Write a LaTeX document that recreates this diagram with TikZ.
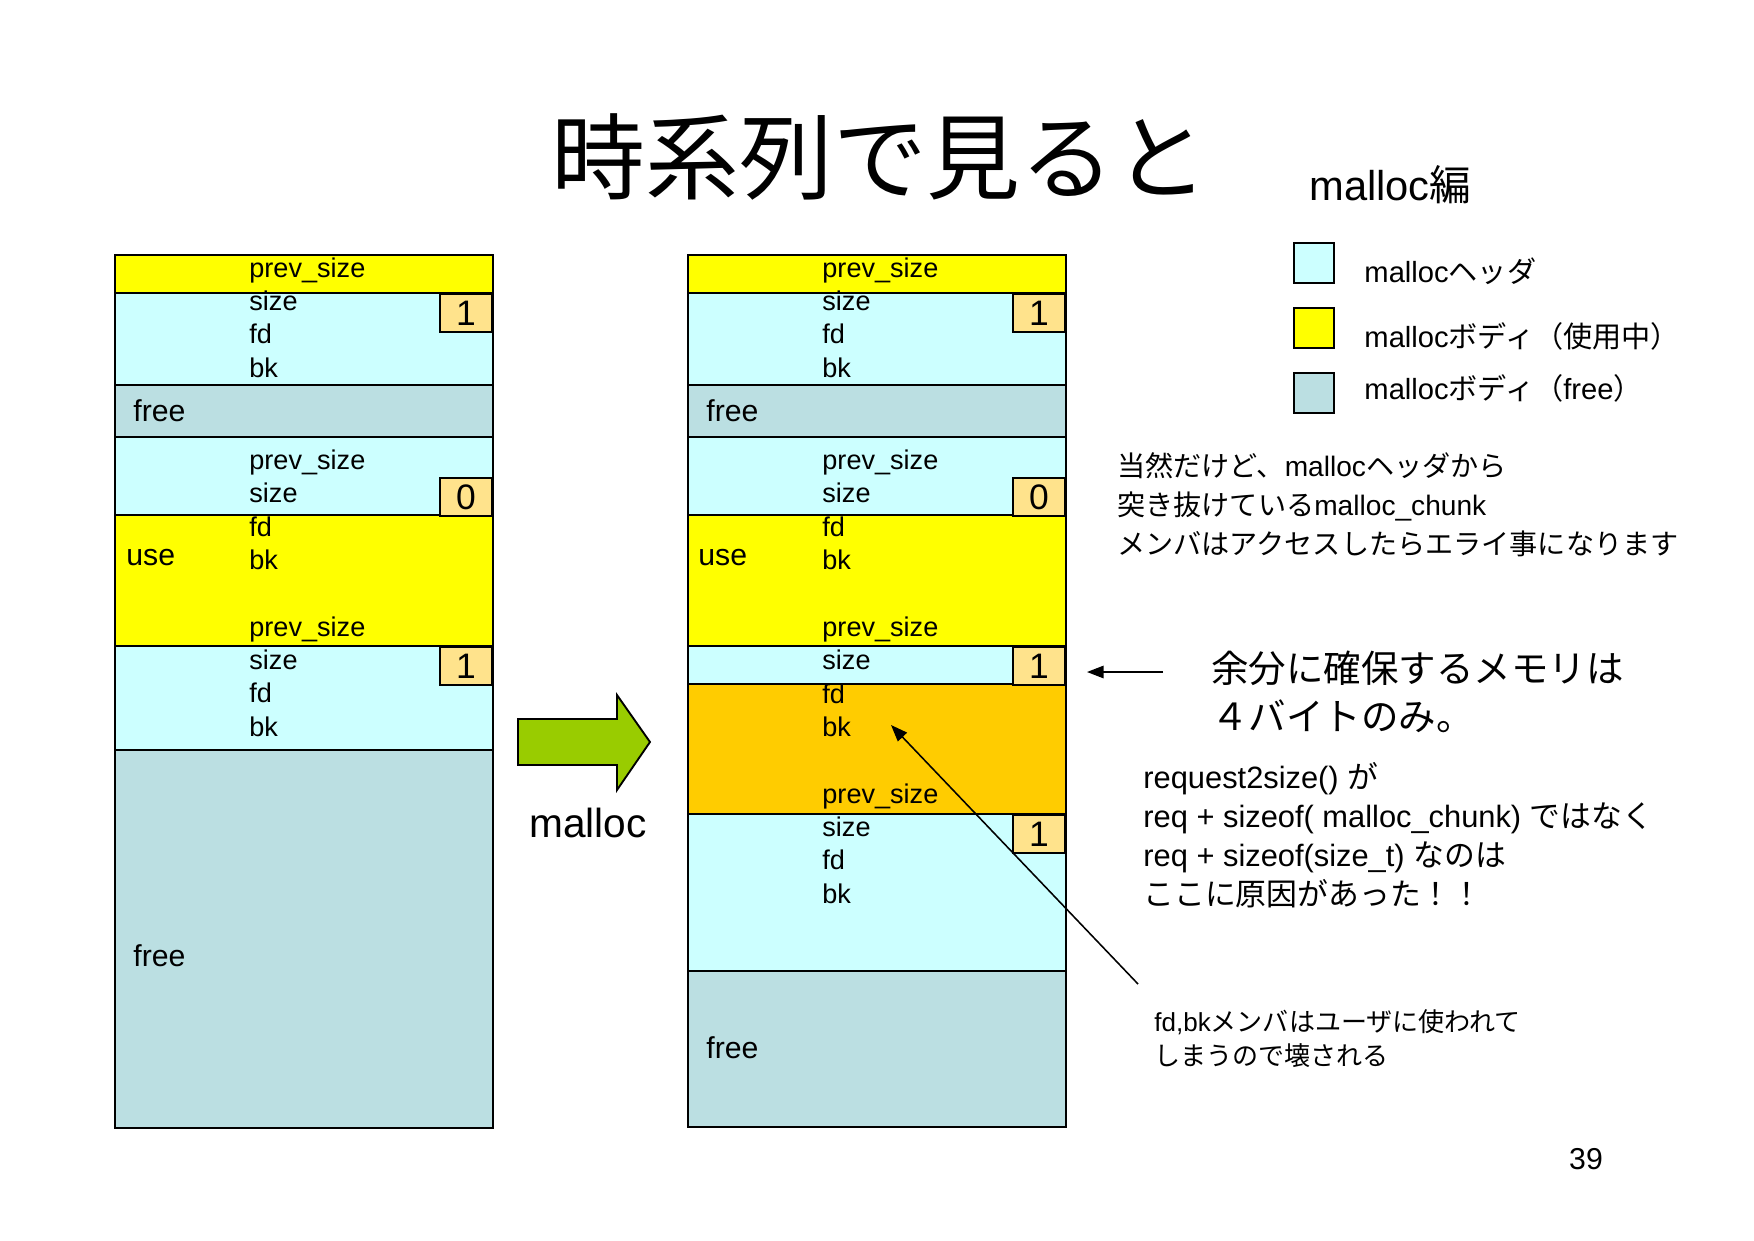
\documentclass[tikz,border=0pt]{standalone}
\usepackage{fontspec}
\setmainfont{Liberation Sans}
\newfontfamily\jpfont{Noto Sans CJK JP}
\newcommand{\ja}[1]{{\jpfont #1}}
\usetikzlibrary{positioning,arrows.meta}

\definecolor{hdrcyan}{HTML}{CCFFFF}
\definecolor{useyellow}{HTML}{FFFF00}
\definecolor{freeblue}{HTML}{BBDFE2}
\definecolor{spareorange}{HTML}{FFCC00}
\definecolor{flagtan}{HTML}{FFE38C}
\definecolor{arrowgreen}{HTML}{99CC00}

\begin{document}
\begin{tikzpicture}[
    x=0.48bp,
    y=-0.48bp,
    seg/.style={
        draw,
        line width=0.9pt
    },
    fields/.style={
        anchor=base west,
        inner sep=0pt,
        align=left,
        font=\fontsize{13bp}{16bp}\selectfont
    },
    tag/.style={
        anchor=base west,
        inner sep=0pt,
        font=\fontsize{14.5bp}{17bp}\selectfont
    },
    flag/.style={
        draw,
        line width=0.9pt,
        fill=flagtan,
        anchor=north east,
        minimum width=25bp,
        minimum height=18.3bp,
        inner sep=0pt,
        font=\fontsize{17bp}{20bp}\selectfont
    },
    key/.style={
        draw,
        line width=0.9pt,
        minimum size=19.2bp,
        anchor=north west,
        inner sep=0pt
    },
    keytext/.style={
        anchor=west,
        inner sep=0pt,
        font=\fontsize{14bp}{17bp}\selectfont
    },
    note/.style={
        anchor=base west,
        inner sep=0pt,
        align=left
    },
    pointer/.style={
        draw,
        line width=0.75pt,
        -{Triangle[length=8bp,width=6bp]}
    }
]
    \useasboundingbox (0,0) rectangle (1754,1240);

    % heading
    \node[font=\fontsize{45bp}{54bp}\selectfont\jpfont] (title) at (880,157) {時系列で見ると};
    \node[anchor=base west, inner sep=0pt, font=\fontsize{20bp}{24bp}\selectfont] (part) at (1309,200) {malloc\ja{編}};

    % before: left column
    \path[seg, fill=useyellow] (115,255) rectangle (493,293);
    \path[seg, fill=hdrcyan] (115,293) rectangle (493,385);
    \path[seg, fill=freeblue] (115,385) rectangle (493,437);
    \path[seg, fill=hdrcyan] (115,437) rectangle (493,515);
    \path[seg, fill=useyellow] (115,515) rectangle (493,646);
    \path[seg, fill=hdrcyan] (115,646) rectangle (493,750);
    \path[seg, fill=freeblue] (115,750) rectangle (493,1128);

    \node[flag] (lflag1) at (493,293) {1};
    \node[flag] (lflag2) at (493,477) {0};
    \node[flag] (lflag3) at (493,646) {1};

    % (base = last line)
    \node[fields] (lhdr1) at (249,377) {prev\_size\\size\\fd\\bk};
    \node[fields] (lhdr2) at (249,736) {prev\_size\\size\\fd\\bk\\ \\prev\_size\\size\\fd\\bk};
    \node[tag] (lfree1) at (133,421) {free};
    \node[tag] (luse) at (126,565) {use};
    \node[tag] (lfree2) at (133,966) {free};

    % after: right column
    \path[seg, fill=useyellow] (688,255) rectangle (1066,293);
    \path[seg, fill=hdrcyan] (688,293) rectangle (1066,385);
    \path[seg, fill=freeblue] (688,385) rectangle (1066,437);
    \path[seg, fill=hdrcyan] (688,437) rectangle (1066,515);
    \path[seg, fill=useyellow] (688,515) rectangle (1066,646);
    \path[seg, fill=hdrcyan] (688,646) rectangle (1066,684);
    \path[seg, fill=spareorange] (688,684) rectangle (1066,814);
    \path[seg, fill=hdrcyan] (688,814) rectangle (1066,971);
    \path[seg, fill=freeblue] (688,971) rectangle (1066,1127);

    \node[flag] (rflag1) at (1066,293) {1};
    \node[flag] (rflag2) at (1066,477) {0};
    \node[flag] (rflag3) at (1066,646) {1};
    \node[flag] (rflag4) at (1066,814) {1};

    \node[fields] (rhdr1) at (822,377) {prev\_size\\size\\fd\\bk};
    \node[fields] (rhdr2) at (822,903) {prev\_size\\size\\fd\\bk\\ \\prev\_size\\size\\fd\\bk\\ \\prev\_size\\size\\fd\\bk};
    \node[tag] (rfree1) at (706,421) {free};
    \node[tag] (ruse) at (698,565) {use};
    \node[tag] (rfree2) at (706,1058) {free};

    % malloc step
    \filldraw[fill=arrowgreen, line width=0.9pt] (518,719) -- (617,719) -- (617,695) -- (650,742) -- (617,790) -- (617,765) -- (518,765) -- cycle;
    \node[anchor=base, inner sep=0pt, font=\fontsize{19.5bp}{23bp}\selectfont] (steplabel) at (588,837) {malloc};

    % legend
    \node[key, fill=hdrcyan] (khdr) at (1293,242) {};
    \node[key, fill=useyellow] (kuse) at (1293,307) {};
    \node[key, fill=freeblue] (kfree) at (1293,372) {};
    \node[keytext, right=14bp of khdr, yshift=-4bp] {malloc\ja{ヘッダ}};
    \node[keytext, right=14bp of kuse, yshift=-4bp] {malloc\ja{ボディ（使用中）}};
    \node[keytext, right=14bp of kfree, yshift=2bp] {malloc\ja{ボディ（}free\ja{）}};

    % remarks
    \node[note, font=\fontsize{13.5bp}{18.7bp}\selectfont] (remark) at (1117,554) {\ja{当然だけど、}malloc\ja{ヘッダから}\\\ja{突き抜けている}malloc\_chunk\\\ja{メンバはアクセスしたらエライ事になります}};
    \node[note, font=\fontsize{18bp}{23bp}\selectfont\jpfont] (spare) at (1211,730) {余分に確保するメモリは\\４バイトのみ。};
    \node[note, font=\fontsize{14.8bp}{18.6bp}\selectfont] (cause) at (1143,905) {request2size() \ja{が}\\req + sizeof( malloc\_chunk) \ja{ではなく}\\req + sizeof(size\_t) \ja{なのは}\\\ja{ここに原因があった！！}};
    \node[note, font=\fontsize{12.5bp}{16.3bp}\selectfont] (clobber) at (1154,1065) {fd,bk\ja{メンバはユーザに使われて}\\\ja{しまうので壊される}};

    % pointers
    \coordinate (sparetail) at (1163,672);
    \coordinate (sparehead) at (1087,672);
    \coordinate (clobbertail) at (1138,984);
    \coordinate (clobberhead) at (891,725);
    \draw[pointer] (sparetail) -- (sparehead);
    \draw[pointer] (clobbertail) -- (clobberhead);

    \node[font=\fontsize{14.5bp}{17bp}\selectfont] (pageno) at (1586,1159) {39};
\end{tikzpicture}
\end{document}
